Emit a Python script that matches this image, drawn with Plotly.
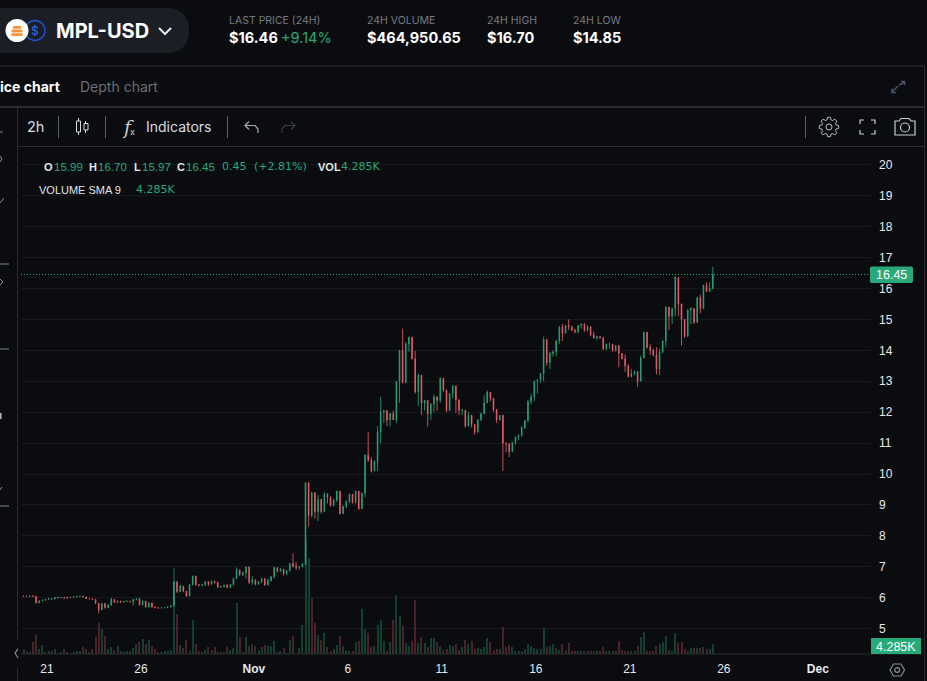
import math
import pandas as pd
import plotly.graph_objects as go

# ---------- data ----------
closes = [6.05,6.04,6.06,6.05,5.83,5.90,5.92,5.94,5.97,5.96,6.01,6.00,6.01,5.98,6.02,6.01,6.03,6.05,6.05,6.03,5.97,5.97,5.95,5.82,5.61,5.81,5.68,5.76,5.95,5.85,5.89,5.86,5.88,5.89,5.88,5.94,5.97,5.77,5.89,5.70,5.83,5.70,5.68,5.67,5.68,5.68,5.70,5.74,
6.52,6.20,6.38,6.22,6.06,6.42,6.70,6.42,6.40,6.42,6.52,6.44,6.53,6.50,6.34,6.36,6.40,6.33,6.42,6.62,6.90,6.74,6.80,7.00,6.50,6.58,6.44,6.52,6.62,6.42,6.56,6.68,6.98,6.86,6.92,6.78,6.88,7.10,7.02,6.98,7.00,7.08,
9.72,8.65,9.40,8.78,9.18,8.78,9.35,9.25,8.98,9.15,9.45,8.72,8.95,9.12,9.35,9.08,9.45,8.88,9.38,10.62,
10.45,10.10,10.40,11.35,12.00,12.05,11.75,11.95,11.75,13.00,14.00,12.95,14.20,14.42,13.73,12.65,13.20,12.30,12.38,11.95,12.25,12.50,12.38,13.10,12.72,12.05,12.60,12.85,12.40,12.05,12.07,11.55,11.90,11.60,11.35,11.75,11.95,
12.30,12.65,12.45,12.08,11.75,11.90,11.00,10.98,10.72,11.02,11.20,11.25,11.50,11.72,12.35,12.50,13.00,13.05,13.25,14.35,13.60,13.90,13.95,14.30,14.75,14.55,14.80,14.75,14.65,14.60,14.80,14.85,14.65,14.75,14.50,14.40,14.45,14.40,14.05,14.20,14.20,14.00,14.15,13.90,13.73,13.50,13.15,13.25,13.30,13.00,13.75,14.58,14.10,14.00,13.85,13.40,13.95,14.30,15.40,15.10,15.35,16.35,15.50,15.00,14.45,15.30,15.35,14.90,15.70,15.35,16.10,15.90,16.00,16.45]

highs = [6.07,6.06,6.08,6.07,6.06,5.91,5.94,5.96,5.99,5.98,6.03,6.02,6.03,6.01,6.04,6.03,6.05,6.07,6.07,6.05,6.03,5.99,5.97,5.95,5.80,5.83,5.83,5.80,6.00,5.95,5.91,5.90,5.90,5.91,5.90,5.96,5.99,6.00,5.91,5.90,5.85,5.84,5.72,5.69,5.70,5.70,5.72,5.76,
6.53,6.52,6.42,6.38,6.22,6.44,6.72,6.66,6.44,6.44,6.54,6.53,6.56,6.55,6.50,6.38,6.42,6.45,6.44,6.64,6.98,6.88,6.86,7.00,6.72,6.70,6.55,6.54,6.64,6.60,6.62,6.70,7.00,6.95,6.97,6.92,6.90,7.12,7.43,7.15,7.02,7.12,
9.72,9.45,9.42,9.40,9.32,9.20,9.42,9.38,9.28,9.20,9.46,9.38,8.98,9.14,9.36,9.35,9.46,9.30,9.40,10.62,
11.37,10.55,10.45,11.55,12.50,12.07,12.05,11.98,12.05,13.00,14.00,14.70,14.27,14.42,14.42,13.98,13.25,13.15,12.40,12.35,12.30,12.57,12.42,13.12,13.00,12.60,12.60,12.85,12.65,12.28,12.10,12.00,12.02,11.85,11.60,11.78,11.98,
12.55,12.70,12.60,12.30,12.10,11.90,11.50,11.02,10.95,11.03,11.22,11.28,11.55,11.76,12.40,12.60,13.02,13.02,13.27,14.45,14.30,13.95,14.00,14.33,14.78,14.85,14.82,15.00,14.80,14.70,14.82,14.87,14.87,14.82,14.78,14.60,14.47,14.45,14.43,14.22,14.25,14.12,14.17,14.15,13.90,13.87,13.55,13.40,13.35,13.33,13.83,14.60,14.55,14.20,14.05,14.10,14.05,14.33,15.42,15.15,15.37,16.40,16.20,15.45,14.85,15.32,15.40,15.30,15.72,15.80,16.12,16.20,16.20,16.70]

lows = [6.03,6.02,6.03,6.03,5.82,5.83,5.89,5.91,5.93,5.94,5.95,5.98,5.99,5.97,5.97,5.99,6.00,6.02,6.03,6.01,5.96,5.95,5.93,5.80,5.50,5.60,5.65,5.67,5.75,5.83,5.84,5.84,5.85,5.86,5.85,5.75,5.92,5.75,5.76,5.68,5.68,5.68,5.66,5.65,5.66,5.66,5.67,5.69,
5.72,6.15,6.18,6.18,6.03,6.05,6.40,6.40,6.38,6.39,6.38,6.38,6.42,6.46,6.32,6.33,6.34,6.31,6.32,6.40,6.62,6.70,6.70,6.62,6.45,6.42,6.40,6.42,6.48,6.38,6.40,6.52,6.62,6.82,6.84,6.72,6.74,6.85,6.98,6.90,6.90,6.98,
7.05,8.30,8.60,8.55,8.48,8.72,8.78,9.05,8.95,8.95,9.10,8.70,8.75,8.90,9.05,9.05,9.05,8.85,8.92,9.25,
10.40,10.05,10.10,10.10,11.00,11.65,11.55,11.53,11.75,11.65,12.30,12.95,13.40,13.95,13.70,12.60,12.20,11.92,12.05,11.53,11.75,12.00,12.05,12.30,12.65,12.00,12.10,12.45,11.97,11.90,11.90,11.50,11.65,11.50,11.27,11.55,11.72,
11.97,12.30,12.35,12.00,11.65,11.73,10.10,10.70,10.55,10.72,10.95,11.10,11.20,11.45,11.68,12.25,12.35,12.60,12.95,13.00,13.50,13.40,13.80,13.80,14.20,14.30,14.55,14.65,14.62,14.55,14.55,14.70,14.60,14.60,14.45,14.38,14.32,14.38,14.00,14.00,14.05,13.95,13.95,13.45,13.70,13.30,13.12,13.12,13.20,12.82,13.00,13.75,14.05,13.85,13.80,13.22,13.20,13.90,14.10,14.65,14.85,15.10,15.10,14.15,14.40,14.62,14.85,14.85,14.90,15.20,15.70,15.90,15.92,15.97]

volumes_k = [2.1,1.3,0.9,5.1,8.1,2.1,3.9,0.9,1.3,1.3,2.1,0.4,0.9,2.1,0.9,0.4,0.9,1.3,1.3,3.0,2.1,0.9,2.1,7.3,13.3,10.7,7.7,2.1,3.0,1.7,3.4,1.3,0.9,1.3,1.3,2.6,4.3,5.1,6.4,4.3,6.0,3.4,2.1,0.9,0.9,1.3,1.3,1.7,
36.9,17.1,3.9,2.6,6.0,1.3,14.6,4.3,1.3,0.9,1.7,3.0,1.7,3.0,0.9,0.9,0.9,3.0,1.7,2.6,21.9,7.3,0.9,7.3,3.4,4.3,3.4,1.7,3.0,3.9,3.4,3.4,5.6,0.9,1.3,2.6,0.4,6.0,7.7,0.4,2.6,12.4,
48.8,41.1,24.0,13.3,8.1,6.0,9.0,3.0,1.3,2.1,3.9,7.7,3.4,1.3,1.3,1.3,5.1,5.6,19.3,10.7,
9.0,3.0,3.4,12.4,14.6,5.6,1.3,5.1,14.6,25.3,16.3,12.0,4.7,3.4,5.6,23.1,4.8,7.4,4.8,3.0,6.7,7.0,5.2,3.3,1.9,2.2,3.7,3.3,4.1,1.9,3.0,5.9,4.4,5.6,2.2,2.6,2.2,
3.0,7.0,5.2,1.9,2.2,2.2,11.5,3.0,3.7,3.0,1.1,1.1,1.5,2.2,4.1,3.3,2.6,2.2,2.2,11.1,3.0,3.3,4.4,2.6,1.9,4.4,1.9,4.8,1.1,1.1,1.5,1.1,1.5,1.5,1.1,1.5,1.1,1.1,3.0,1.5,1.1,1.1,1.1,5.6,1.9,1.5,1.5,1.1,1.1,3.3,7.4,9.3,1.5,1.5,1.1,3.3,4.4,5.2,7.8,1.9,1.5,8.9,4.8,5.2,2.2,1.5,2.6,2.6,2.6,2.6,3.0,2.2,2.2,4.285]

# candles whose volume colour differs from the simplified 4h candle
vol_up = [91]
vol_down = [92]

start_open = 6.05
last_close = 16.45
candle_start = "2023-10-19 18:00"
candle_period = "4h"

price_ticks = list(range(5, 21))
date_ticks = ["2023-10-21", "2023-10-26", "2023-11-01", "2023-11-06", "2023-11-11",
              "2023-11-16", "2023-11-21", "2023-11-26", "2023-12-01"]
date_labels = ["21", "26", "<b>Nov</b>", "6", "11", "16", "21", "26", "<b>Dec</b>"]

# ---------- page geometry ----------
W, H = 927, 681
PL, PR, PT, PB = 21, 870, 148, 654
BG = "#0a0c0f"
GREEN = "#27a97a"
RED = "#f4606d"
VGREEN = "#123f2f"
VRED = "#4c2229"
GRID = "#17191d"
RULE = "#2a2c32"
TICK = "#e8eaec"
GREY = "#777b82"
UI = "Inter"
NUM = "Liberation Sans"

def px(x): return x / W
def py(y): return 1 - y / H

opens = [start_open] + closes[:-1]
hi = [max(a, b, c) for a, b, c in zip(highs, opens, closes)]
lo = [min(a, b, c) for a, b, c in zip(lows, opens, closes)]
dates = pd.date_range(candle_start, periods=len(closes), freq=candle_period)

vol_colors = []
for i, (o, c) in enumerate(zip(opens, closes)):
    up = c >= o
    if i in vol_up: up = True
    if i in vol_down: up = False
    vol_colors.append(VGREEN if up else VRED)

fig = go.Figure()
fig.add_trace(go.Bar(x=dates, y=volumes_k, yaxis="y", xaxis="x",
                     marker=dict(color=vol_colors, line=dict(width=0)),
                     width=1000 * 3600 * 1.3, hoverinfo="skip"))
fig.add_trace(go.Candlestick(x=dates, open=opens, high=hi, low=lo, close=closes,
                             yaxis="y2", xaxis="x", whiskerwidth=0,
                             increasing=dict(line=dict(color=GREEN, width=0.8), fillcolor=GREEN),
                             decreasing=dict(line=dict(color=RED, width=0.8), fillcolor=RED)))

shapes, notes = [], []

def line(x0, y0, x1, y1, color=RULE, w=1, dash=None):
    shapes.append(dict(type="line", xref="paper", yref="paper", x0=px(x0), y0=py(y0), x1=px(x1), y1=py(y1),
                       line=dict(color=color, width=w, dash=dash), layer="above"))

def rect(x0, y0, x1, y1, fill=None, color=None, w=0):
    shapes.append(dict(type="rect", xref="paper", yref="paper", x0=px(x0), y0=py(y0), x1=px(x1), y1=py(y1),
                       fillcolor=fill, line=dict(color=color or "rgba(0,0,0,0)", width=w), layer="above"))

def circle(cx, cy, r, fill=None, color=None, w=0):
    shapes.append(dict(type="circle", xref="paper", yref="paper", x0=px(cx - r), y0=py(cy - r), x1=px(cx + r), y1=py(cy + r),
                       fillcolor=fill, line=dict(color=color or "rgba(0,0,0,0)", width=w), layer="above"))

def path(points, color=None, w=1, fill=None, close=False):
    d = "M " + " L ".join(f"{px(a):.5f},{py(b):.5f}" for a, b in points) + (" Z" if close else "")
    shapes.append(dict(type="path", xref="paper", yref="paper", path=d, fillcolor=fill,
                       line=dict(color=color or "rgba(0,0,0,0)", width=w), layer="above"))

def text(x, y, s, size=12, color="#ffffff", font=UI, anchor="left", bold=False):
    if anchor == "left":
        x -= 1
    notes.append(dict(xref="paper", yref="paper", x=px(x), y=py(y), text=f"<b>{s}</b>" if bold else s,
                      showarrow=False, xanchor=anchor, yanchor="middle", borderpad=0,
                      font=dict(family=font, size=size, color=color)))

def rounded(x0, y0, x1, y1, r):
    pts = []
    for cx, cy, a0 in ((x1 - r, y0 + r, -90), (x1 - r, y1 - r, 0), (x0 + r, y1 - r, 90), (x0 + r, y0 + r, 180)):
        for k in range(7):
            a = math.radians(a0 + 15 * k)
            pts.append((cx + r * math.cos(a), cy + r * math.sin(a)))
    return pts

# frame rules
line(0, 66, 925, 66)
line(0, 107, 925, 107, w=2)
line(18, 146.5, 925, 146.5)
line(924.5, 66, 924.5, 681)
line(17.5, 108, 17.5, 640)
line(17.5, 668, 17.5, 681)
line(PL, PB, PR, PB, color=RULE)
line(871, PB, 921, PB, color=RULE)
# last price line
shapes.append(dict(type="line", xref="paper", yref="y2", x0=px(PL), x1=px(PR), y0=last_close, y1=last_close,
                   line=dict(color=GREEN, width=1, dash="1px,2px"), layer="above"))

# header pill + pair icons
path(rounded(-20, 8, 189, 53, 20), fill="#1b1e24")
circle(35, 30.5, 10, color="#1f54d6", w=1.3)
text(35, 30.5, "$", 12, "#2f6be8", anchor="center")
circle(17, 30.5, 11.5, fill="#ffffff")
for yy, xx in ((26, 4), (29.6, 5.5), (33.2, 5.5)):
    rect(17 - xx, yy, 17 + xx, yy + 2.8, fill="#f6953a")
text(56, 30.5, "MPL-USD", 20, "#ffffff", bold=True)
path([(159, 28), (165, 34), (171, 28)], color="#e8eaec", w=2)

# stats
for xx, lab, val in ((229, "LAST PRICE (24H)", "$16.46"), (367, "24H VOLUME", "$464,950.65"),
                     (487, "24H HIGH", "$16.70"), (573, "24H LOW", "$14.85")):
    text(xx, 20, lab, 10.5, GREY)
    text(xx, 38, val, 14.5, "#ffffff", bold=True)
text(281, 38, "+9.14%", 14.5, GREEN)

# tabs
text(0, 86.5, "ice chart", 14, "#ffffff", bold=True)
text(80, 86.5, "Depth chart", 14, "#6b6f76")
path([(892, 92), (898, 86)], color="#46566c", w=1.5)
path([(899, 85), (905, 82)], color="#46566c", w=1.5)
path([(901, 81.5), (904.5, 81.5), (904.5, 85)], color="#46566c", w=1.5)
path([(892, 88.5), (892, 92.5), (896, 92.5)], color="#46566c", w=1.5)

# toolbar
text(27, 126.5, "2h", 14.5, "#d9dde2")
for xx in (58.5, 105.5, 227.5, 805.5):
    line(xx, 116, xx, 138, color="#5b5e63")
for xx, y0, y1 in ((78.5, 118, 135), (85.5, 121, 133)):
    line(xx, y0, xx, y1, color="#d9dde2")
rect(76.5, 121, 80.5, 132, color="#d9dde2", fill=BG, w=1)
rect(84, 123.5, 88, 130, color="#d9dde2", fill=BG, w=1)
text(122, 126.5, "<i>f</i>", 19, "#c9cdd2", font="DejaVu Serif")
text(130, 132, "x", 9, "#c9cdd2")
text(146, 126.5, "Indicators", 14, "#d9dde2")
path([(258, 133), (258, 129), (255, 125.5), (245, 125.5)], color="#a8acb2", w=1.2)
path([(249, 121.5), (245, 125.5), (249, 129.5)], color="#a8acb2", w=1.2)
path([(282, 133), (282, 129), (285, 125.5), (295, 125.5)], color="#3a3d42", w=1.2)
path([(291, 121.5), (295, 125.5), (291, 129.5)], color="#3a3d42", w=1.2)
# gear
cx, cy = 829, 127
gear = []
for k in range(8):
    a = k * math.pi / 4
    for da, r in ((-0.30, 7.3), (-0.14, 9.8), (0.14, 9.8), (0.30, 7.3)):
        gear.append((cx + r * math.cos(a + da), cy + r * math.sin(a + da)))
path(gear, color="#b9bdc3", w=1, close=True)
circle(cx, cy, 3, color="#b9bdc3", w=1)
# fullscreen
for a, b, sx, sy in ((860, 120, 1, 1), (875, 120, -1, 1), (860, 134, 1, -1), (875, 134, -1, -1)):
    path([(a + 4 * sx, b), (a, b), (a, b + 4 * sy)], color="#c8ccd2", w=1.2)
# camera
path([(895, 121), (899, 121), (901, 118.5), (909, 118.5), (911, 121), (915, 121), (915, 135), (895, 135)],
     color="#c8ccd2", w=1.2, close=True)
circle(905, 127.5, 4.5, color="#c8ccd2", w=1.2)

# left rail fragments
for yy, x1 in ((132, 3), (264, 9), (349, 9), (506, 9)):
    line(0, yy, x1, yy, color="#80838a")
path([(0, 203), (4, 198)], color="#8a8d93")
path([(0, 156), (2, 159), (0, 162)], color="#8a8d93")
path([(0, 279), (3, 282), (0, 285)], color="#8a8d93")
rect(0, 413, 1.5, 419, fill="#b5b8bd")
path([(0, 490), (2, 487)], color="#8a8d93")
path([(18, 649), (15, 653), (18, 658)], color="#7b7f85", w=1.3)

# legend
LG = 11
LBL = "#e4e6e9"
for xx, s, c in ((44, "O", LBL), (89, "H", LBL), (134, "L", LBL), (177, "C", LBL), (318, "VOL", LBL)):
    text(xx, 166.5, s, LG, c, font=NUM, bold=True)
for xx, s in ((54, "15.99"), (98, "16.70"), (142, "15.97"), (186, "16.45")):
    text(xx, 166.5, s, 11.5, GREEN, font=NUM)
for xx, s in ((222, "0.45"), (254, "(+2.81%)"), (341, "4.285K")):
    text(xx, 166.5, s, 11, GREEN, font="DejaVu Sans")
text(39, 189.5, "VOLUME SMA 9", LG, LBL, font=NUM)
text(136, 189.5, "4.285K", 11, GREEN, font="DejaVu Sans")

# price tags
path(rounded(870, 266.5, 913, 283, 2), fill=GREEN)
text(891.5, 275, f"{last_close:.2f}", 12.5, "#ffffff", font=NUM, anchor="center")
rect(871, 638, 921, 654, fill=GREEN)
text(896, 646.5, "4.285K", 12.5, "#ffffff", font=NUM, anchor="center")

# settings hexagon
path([(890, 670), (893.5, 664), (901, 664), (904.5, 670), (901, 676), (893.5, 676)], color="#8a8d93", w=1.2, close=True)
circle(897.2, 670, 2.4, color="#8a8d93", w=1.2)

fig.update_layout(
    width=W, height=H, autosize=False,
    margin=dict(l=0, r=0, t=0, b=0),
    paper_bgcolor=BG, plot_bgcolor=BG,
    showlegend=False, hovermode=False, bargap=0, boxgap=0.7,
    font=dict(family=NUM, size=12, color=TICK),
    shapes=shapes, annotations=notes,
    xaxis=dict(type="date", domain=[px(PL), px(PR)], anchor="y",
               range=["2023-10-19 14:47", "2023-12-03 18:38"],
               tickmode="array", tickvals=date_ticks, ticktext=date_labels,
               showgrid=False, zeroline=False, showline=False, ticklen=0,
               tickfont=dict(family=NUM, size=12, color=TICK),
               rangeslider=dict(visible=False), ticklabelstandoff=6),
    yaxis=dict(domain=[py(PB), py(PT)], range=[0, 216.8], visible=False, fixedrange=True),
    yaxis2=dict(domain=[py(PB), py(PT)], overlaying="y", side="right", anchor="x",
                range=[4.182, 20.54], tickmode="array", tickvals=price_ticks,
                ticktext=[str(t) for t in price_ticks],
                showgrid=True, gridcolor=GRID, gridwidth=1, zeroline=False, showline=False, ticklen=0,
                tickfont=dict(family=NUM, size=12, color=TICK), ticklabelstandoff=8),
)

fig.write_html("out.html", config=dict(displayModeBar=False),
               post_script="document.body.style.margin='0';document.body.style.background='#0a0c0f';document.body.style.overflow='hidden';")
